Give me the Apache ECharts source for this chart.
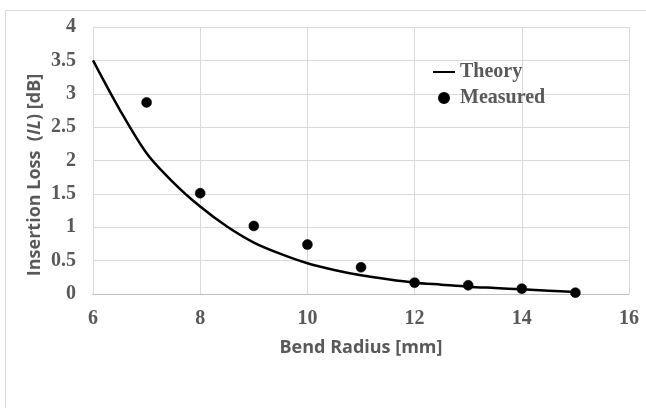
<!DOCTYPE html>
<html>
<head>
<meta charset="utf-8">
<script src="https://cdn.jsdelivr.net/npm/echarts@6/dist/echarts.min.js"></script>
<style>
  html, body { margin: 0; padding: 0; background: #fff; }
  #main { width: 646px; height: 408px; }
</style>
</head>
<body>
<div id="main"></div>
<script>
// theory curve (bend radius in mm -> insertion loss in dB)
var theoryX = [6, 6.5, 7, 7.5, 8, 8.5, 9, 9.5, 10, 10.5, 11, 11.5, 12, 12.5, 13, 13.5, 14, 14.5, 15];
var theoryY = [3.5, 2.76, 2.11, 1.67, 1.31, 1.01, 0.77, 0.6, 0.46, 0.36, 0.28, 0.22, 0.17, 0.14, 0.11, 0.09, 0.07, 0.05, 0.03];

// measured points
var measuredX = [7, 8, 9, 10, 11, 12, 13, 14, 15];
var measuredY = [2.87, 1.51, 1.02, 0.74, 0.40, 0.17, 0.13, 0.08, 0.02];

var theoryData = theoryX.map(function (x, i) { return [x, theoryY[i]]; });
var measuredData = measuredX.map(function (x, i) { return [x, measuredY[i]]; });

var dom = document.getElementById("main");
var myChart = echarts.init(dom);
var serif = "'Liberation Serif', 'Times New Roman', serif";
var sans = "'Open Sans', 'Liberation Sans', sans-serif";

var option = {
    animation: false,
    grid: { left: 93, right: 17, top: 27, bottom: 114 },
    graphic: [
        {
            type: 'rect',
            shape: { x: 5.5, y: 10.5, width: 700, height: 500 },
            style: { fill: 'none', stroke: '#d9d9d9', lineWidth: 1 },
            silent: true
        },
        {
            // y axis title, with the italic IL
            type: 'text',
            x: 35, y: 175,
            rotation: Math.PI / 2,
            style: {
                text: 'Insertion Loss  ({i|IL}) [dB]',
                fontFamily: sans, fontWeight: 'bold', fontSize: 18, fill: '#595959',
                align: 'center', verticalAlign: 'middle',
                rich: { i: { fontFamily: sans, fontWeight: 'bold', fontStyle: 'italic', fontSize: 18, fill: '#595959' } }
            },
            silent: true
        }
    ],
    legend: {
        orient: 'vertical',
        left: 427,
        top: 57,
        itemWidth: 22,
        itemHeight: 10,
        itemGap: 6,
        textStyle: { fontFamily: serif, fontWeight: 'bold', fontSize: 20, color: '#595959' },
        data: [
            { name: 'Theory', itemStyle: { opacity: 0 } },
            { name: 'Measured', icon: 'circle' }
        ]
    },
    xAxis: {
        type: 'value',
        min: 6, max: 16, interval: 2,
        name: 'Bend Radius [mm]',
        nameLocation: 'middle',
        nameGap: 45,
        nameTextStyle: { fontFamily: sans, fontWeight: 'bold', fontSize: 18, color: '#595959' },
        axisLine: { show: true, lineStyle: { color: '#bfbfbf', width: 1 } },
        axisTick: { show: false },
        axisLabel: { fontFamily: serif, fontWeight: 'bold', fontSize: 20, color: '#595959', margin: 15 },
        splitLine: { show: true, lineStyle: { color: '#d9d9d9', width: 1 } }
    },
    yAxis: {
        type: 'value',
        min: 0, max: 4, interval: 0.5,
        axisLine: { show: true, lineStyle: { color: '#d9d9d9', width: 1 } },
        axisTick: { show: false },
        axisLabel: { fontFamily: serif, fontWeight: 'bold', fontSize: 20, color: '#595959', margin: 17 },
        splitLine: { show: true, lineStyle: { color: '#d9d9d9', width: 1 } }
    },
    series: [
        {
            name: 'Theory',
            type: 'line',
            data: theoryData,
            smooth: 0.3,
            symbol: 'none',
            lineStyle: { color: '#000', width: 2.5 },
            itemStyle: { color: '#000' },
            z: 2
        },
        {
            name: 'Measured',
            type: 'scatter',
            data: measuredData,
            symbol: 'circle',
            symbolSize: 10,
            itemStyle: { color: '#000', opacity: 1, borderColor: '#000', borderWidth: 0.5 },
            z: 3
        }
    ]
};
myChart.setOption(option);
</script>
</body>
</html>
